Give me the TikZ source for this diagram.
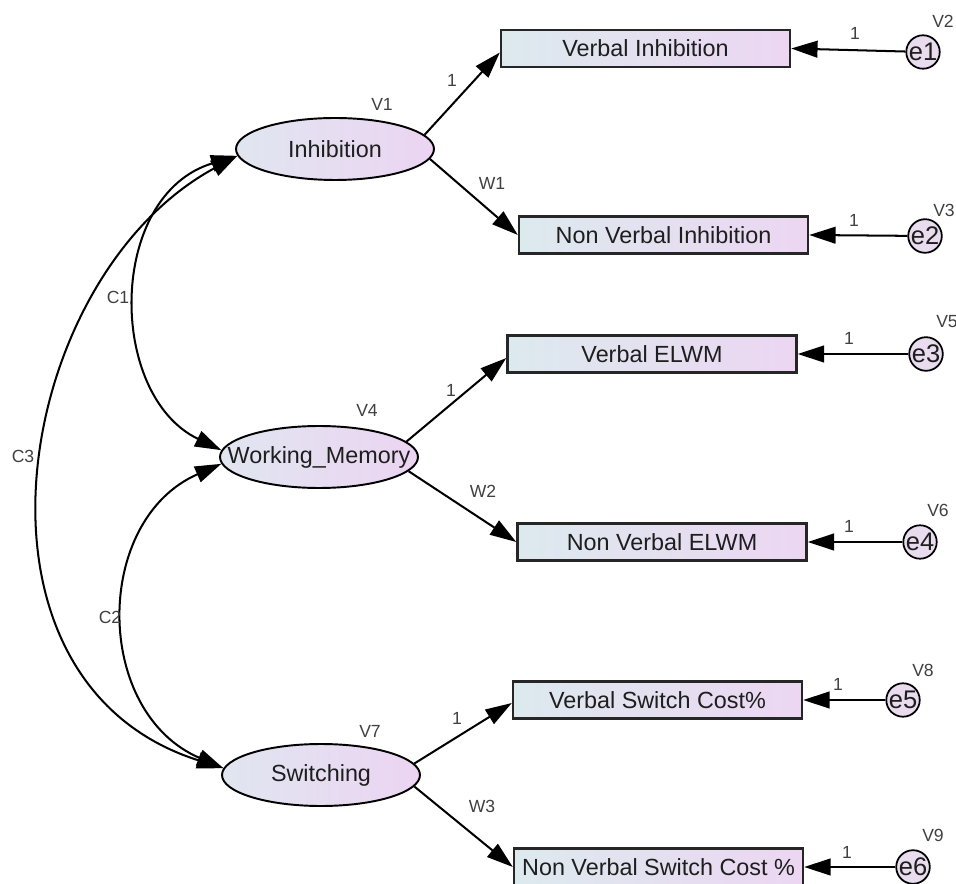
\documentclass[tikz,border=0pt]{standalone}
\usepackage{fontspec}
\setmainfont{Liberation Sans}
\usetikzlibrary{arrows.meta,shapes.geometric,calc}

\definecolor{latL}{RGB}{224,230,240}
\definecolor{latR}{RGB}{236,212,242}
\definecolor{boxL}{RGB}{220,234,238}
\definecolor{boxR}{RGB}{236,214,242}
\definecolor{errC}{RGB}{232,220,238}
\definecolor{ink}{RGB}{30,30,30}

\begin{document}
\begin{tikzpicture}[x=0.02cm,y=-0.02cm,
  font=\fontsize{13.3}{15}\selectfont, text=ink,
  latent/.style={ellipse, draw=black, line width=1.1pt, left color=latL, right color=latR,
    minimum width=3.96cm, minimum height=1.24cm, inner sep=0pt},
  observed/.style={rectangle, draw=black!85, line width=1.4pt, left color=boxL, right color=boxR,
    minimum width=5.78cm, minimum height=0.74cm, inner sep=0pt},
  errorvar/.style={circle, draw=black, line width=1pt, fill=errC, minimum size=0.58cm, inner sep=0pt,
    font=\fontsize{14.5}{16}\selectfont},
  loading/.style={-{Triangle[length=15pt,width=9.5pt]}, line width=1.15pt},
  cov/.style={{Triangle[length=15pt,width=9.5pt]}-{Triangle[length=15pt,width=9.5pt]}, line width=1.15pt},
  lbl/.style={font=\fontsize{10}{12}\selectfont, text=ink!85, inner sep=0pt}
]
\useasboundingbox[fill=white] (0,0) rectangle (956,884);

% latent factors
\node[latent] (inh) at (335,149) {\makebox[0pt]{Inhibition}};
\node[latent] (wm)  at (319,457) {\makebox[0pt]{Working\_Memory}};
\node[latent] (sw)  at (321,775) {\makebox[0pt]{Switching}};

% observed indicators
\node[observed] (vi)     at (645.5,48.5) {Verbal Inhibition};
\node[observed] (nvi)    at (663.5,235)  {Non Verbal Inhibition};
\node[observed] (velwm)  at (652,354)    {Verbal ELWM};
\node[observed] (nvelwm) at (662,542)    {Non Verbal ELWM};
\node[observed] (vsc)    at (657.5,700)  {Verbal Switch Cost\%};
\node[observed] (nvsc)   at (658.5,867)  {Non Verbal Switch Cost \%};

% error terms
\node[errorvar] (e1) at (923,52)  {e1};
\node[errorvar] (e2) at (925,236) {e2};
\node[errorvar] (e3) at (926,354) {e3};
\node[errorvar] (e4) at (920,542) {e4};
\node[errorvar] (e5) at (903,700) {e5};
\node[errorvar] (e6) at (913,867) {e6};

% factor loadings
\draw[loading] (inh.9)  -- ($(vi.west)+(0,4)$);
\draw[loading] (inh.-6) -- (nvi.west);
\draw[loading] (wm.10)  -- ($(velwm.west)+(0,4)$);
\draw[loading] (wm.-9)  -- (nvelwm.west);
\draw[loading] (sw.7)   -- ($(vsc.west)+(0,3)$);
\draw[loading] (sw.-7)  -- (nvsc.west);

% error paths
\draw[loading] (e1) -- (vi.east);
\draw[loading] (e2) -- (nvi.east);
\draw[loading] (e3) -- (velwm.east);
\draw[loading] (e4) -- (nvelwm.east);
\draw[loading] (e5) -- (vsc.east);
\draw[loading] (e6) -- (nvsc.east);

% covariances
\draw[cov] (inh.184) .. controls (107,195) and (107,395) .. (wm.176);
\draw[cov] (wm.184)  .. controls (93,520) and (93,712) .. (sw.176);
\draw[cov] (inh.184) .. controls (13,277) and (-53,681) .. (sw.176);

% parameter labels
\node[lbl] (v1) at (382,104) {V1};
\node[lbl] (v4) at (367,410) {V4};
\node[lbl] (v7) at (370,731) {V7};
\node[lbl] (v2) at (943,21)  {V2};
\node[lbl] (v3) at (944,210) {V3};
\node[lbl] (v5) at (947,322) {V5};
\node[lbl] (v6) at (938,510) {V6};
\node[lbl] (v8) at (923,670) {V8};
\node[lbl] (v9) at (933,835) {V9};

\node[lbl] (f1) at (452,80)  {1};
\node[lbl] (w1) at (492,183) {W1};
\node[lbl] (f2) at (451,390) {1};
\node[lbl] (w2) at (483,491) {W2};
\node[lbl] (f3) at (457,718) {1};
\node[lbl] (w3) at (482,806) {W3};

\node[lbl] (r1) at (855,33)  {1};
\node[lbl] (r2) at (854,220) {1};
\node[lbl] (r3) at (849,338) {1};
\node[lbl] (r4) at (849,526) {1};
\node[lbl] (r5) at (838,684) {1};
\node[lbl] (r6) at (847,852) {1};

\node[lbl] (c1) at (118,297) {C1};
\node[lbl] (c2) at (110,617) {C2};
\node[lbl] (c3) at (23,456)  {C3};
\end{tikzpicture}
\end{document}
